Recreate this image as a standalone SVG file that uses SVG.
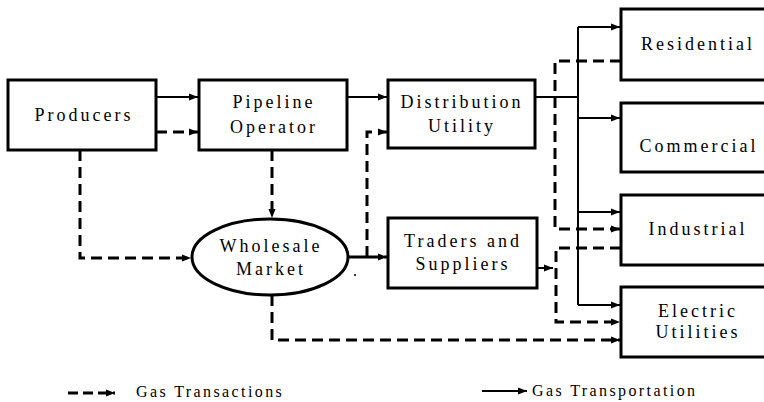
<svg xmlns="http://www.w3.org/2000/svg" width="764" height="402" viewBox="0 0 764 402">
<style>
.box{fill:#fff;stroke:#000;stroke-width:3}
.t{font-family:"Liberation Serif","Times New Roman",serif;font-size:18px;letter-spacing:3px;text-anchor:middle;fill:#000}
.lg{font-family:"Liberation Serif","Times New Roman",serif;font-size:16px;letter-spacing:2.4px;fill:#000}
.s{fill:none;stroke:#000;stroke-width:2}
.d{fill:none;stroke:#000;stroke-width:3;stroke-dasharray:11 6}
</style>
<defs>
<marker id="ah" markerUnits="userSpaceOnUse" markerWidth="10" markerHeight="8" refX="9" refY="4" orient="auto">
<path d="M0,0.5 L9,4 L0,7.5 Z" fill="#000"/>
</marker>
</defs>
<rect width="764" height="402" fill="#fff"/>
<g id="connectors">
<path class="s" d="M156,97 H198" marker-end="url(#ah)"/>
<path class="s" d="M347,97 H387" marker-end="url(#ah)"/>
<path class="s" d="M535,97 H578"/>
<path class="s" d="M578,27 V305"/>
<path class="s" d="M578,27 H620" marker-end="url(#ah)"/>
<path class="s" d="M578,118 H620" marker-end="url(#ah)"/>
<path class="s" d="M578,212 H620" marker-end="url(#ah)"/>
<path class="s" d="M578,305 H620" marker-end="url(#ah)"/>
<path class="s" d="M537,268 H553" marker-end="url(#ah)"/>
<path class="d" d="M156,132 H198" marker-end="url(#ah)"/>
<path class="d" d="M80,150 V258 H191" marker-end="url(#ah)"/>
<path class="d" d="M272,150 V218" marker-end="url(#ah)"/>
<path class="s" d="M348,257 H367" style="stroke-width:3"/>
<path class="d" d="M367,257 H387" marker-end="url(#ah)"/>
<path class="d" d="M367,257 V132 H387" marker-end="url(#ah)"/>
<path class="d" d="M272,295 V340 H620" marker-end="url(#ah)"/>
<path class="d" d="M621,61 H555 V229 H620" marker-end="url(#ah)"/>
<path class="d" d="M621,248 H556 V322 H620" marker-end="url(#ah)"/>
</g>
<g id="producers"><rect class="box" x="8" y="80" width="148" height="70"/><text class="t" x="84" y="121">Producers</text></g>
<g id="pipeline"><rect class="box" x="199" y="80" width="148" height="70"/><text class="t" x="274" y="108">Pipeline</text><text class="t" x="274" y="133">Operator</text></g>
<g id="distribution"><rect class="box" x="388" y="80" width="147" height="68"/><text class="t" x="462" y="108">Distribution</text><text class="t" x="462" y="132">Utility</text></g>
<g id="wholesale"><ellipse cx="270" cy="257" rx="78" ry="38" fill="#fff" stroke="#000" stroke-width="3"/><text class="t" x="271" y="252">Wholesale</text><text class="t" x="271" y="275">Market</text></g>
<circle cx="355" cy="275" r="1" fill="#000"/>
<g id="traders"><rect class="box" x="388" y="218" width="149" height="70"/><text class="t" x="463" y="247">Traders and</text><text class="t" x="463" y="270">Suppliers</text></g>
<g id="residential"><rect class="box" x="621" y="9" width="150" height="71"/><text class="t" x="698" y="50">Residential</text></g>
<g id="commercial"><rect class="box" x="621" y="103" width="150" height="69"/><text class="t" x="699" y="152">Commercial</text></g>
<g id="industrial"><rect class="box" x="621" y="195" width="150" height="70"/><text class="t" x="698" y="235">Industrial</text></g>
<g id="electric"><rect class="box" x="621" y="287" width="150" height="70"/><text class="t" x="698" y="317">Electric</text><text class="t" x="698" y="338">Utilities</text></g>
<g id="legend">
<path class="d" d="M68,393 H115" style="stroke-dasharray:10 5" marker-end="url(#ah)"/>
<text class="lg" x="136" y="397">Gas Transactions</text>
<path class="s" d="M482,391 H527" marker-end="url(#ah)"/>
<text class="lg" x="532" y="396">Gas Transportation</text>
</g>
</svg>
